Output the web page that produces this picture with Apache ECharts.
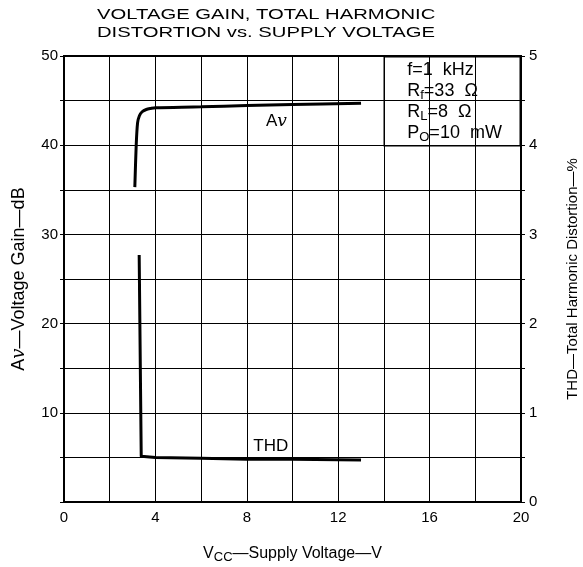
<!DOCTYPE html>
<html>
<head>
    <meta charset="utf-8">
    <title>Voltage Gain, THD vs Supply Voltage</title>
    <script src="https://cdn.jsdelivr.net/npm/echarts@6/dist/echarts.min.js"></script>
</head>
<body style="margin:0">
    <div id="main" style="width: 583px;height:567px;"></div>
    <script type="text/javascript">

// supply voltage (V) vs voltage gain (dB)
var avVcc  = [3.1, 3.16, 3.22, 3.3, 3.42, 3.6, 3.8, 4.0, 6, 8, 10, 13];
var avGain = [35.3, 40.0, 42.5, 43.3, 43.75, 44.0, 44.12, 44.2, 44.3, 44.45, 44.55, 44.7];

// supply voltage (V) vs THD (%)
var thdVcc = [3.29, 3.38, 3.5, 4, 6, 8, 10, 13];
var thdPct = [2.77, 0.51, 0.51, 0.5, 0.49, 0.48, 0.48, 0.47];

var xTicks = [0, 4, 8, 12, 16, 20];
var leftTicks = [10, 20, 30, 40, 50];
var rightTicks = [0, 1, 2, 3, 4, 5];

var font = 'Liberation Sans';

function pairs(xs, ys) {
    var out = [];
    for (var i = 0; i < xs.length; i++) {
        out.push([xs[i], ys[i]]);
    }
    return out;
}

var myChart = echarts.init(document.getElementById('main'));

var option = {
    animation: false,
    backgroundColor: '#fff',
    textStyle: { fontFamily: font, color: '#000' },
    grid: {
        left: 64, right: 62, top: 56, bottom: 65,
        outerBoundsMode: 'none',
        show: true, borderColor: '#000', borderWidth: 2
    },
    xAxis: {
        type: 'value',
        min: 0, max: 20, interval: 2,
        name: 'V{sub|CC}—Supply Voltage—V',
        nameLocation: 'middle',
        nameGap: 41,
        nameTextStyle: {
            fontSize: 16, color: '#000',
            rich: { sub: { fontSize: 13, verticalAlign: 'bottom', padding: [8, 0, 0, 0] } }
        },
        axisLine: { lineStyle: { color: '#000', width: 2 } },
        axisTick: { show: false },
        axisLabel: {
            fontSize: 15, color: '#000', margin: 8,
            formatter: function (v) { return xTicks.indexOf(v) >= 0 ? String(v) : ''; }
        },
        splitLine: { lineStyle: { color: '#000', width: 1 } }
    },
    yAxis: [
        {
            type: 'value',
            min: 0, max: 50, interval: 5,
            name: 'A{it|v}—Voltage Gain—dB',
            nameLocation: 'middle',
            nameGap: 36,
            nameTextStyle: {
                fontSize: 18, color: '#000',
                rich: { it: { fontSize: 18, fontStyle: 'italic', fontFamily: 'DejaVu Serif' } }
            },
            axisLine: { show: true, lineStyle: { color: '#000', width: 2 } },
            axisTick: { show: true, length: 4, lineStyle: { color: '#000' } },
            axisLabel: {
                fontSize: 15, color: '#000', margin: 6,
                formatter: function (v) { return leftTicks.indexOf(v) >= 0 ? String(v) : ''; }
            },
            splitLine: { lineStyle: { color: '#000', width: 1 } }
        },
        {
            type: 'value',
            min: 0, max: 5, interval: 0.5,
            position: 'right',
            name: 'THD—Total Harmonic Distortion—%',
            nameLocation: 'middle',
            nameGap: 44,
            nameRotate: 90,
            nameTextStyle: { fontSize: 15, color: '#000' },
            axisLine: { show: true, lineStyle: { color: '#000', width: 2 } },
            axisTick: { show: true, length: 4, lineStyle: { color: '#000' } },
            axisLabel: {
                fontSize: 15, color: '#000', margin: 8,
                formatter: function (v) { return rightTicks.indexOf(v) >= 0 ? String(v) : ''; }
            },
            splitLine: { show: false }
        }
    ],
    graphic: [
        {
            type: 'text',
            left: 97, top: 6,
            scaleX: 1.35,
            style: {
                text: 'VOLTAGE GAIN, TOTAL HARMONIC\nDISTORTION vs. SUPPLY VOLTAGE',
                font: '15px ' + font,
                lineHeight: 18,
                fill: '#000'
            }
        },
        {
            type: 'group',
            right: 62, top: 56,
            z: 100,
            children: [
                {
                    type: 'rect',
                    shape: { x: 0, y: 0, width: 136, height: 89 },
                    style: { fill: '#fff', stroke: '#000', lineWidth: 1.5 }
                },
                {
                    type: 'text',
                    left: 23, top: 3,
                    style: {
                        text: 'f=1  kHz\nR{s|f}=33  Ω\nR{s|L}=8  Ω\nP{s|O}=10  mW',
                        font: '18px ' + font,
                        lineHeight: 21,
                        fill: '#000',
                        rich: { s: { fontSize: 13, verticalAlign: 'bottom', padding: [6, 0, 0, 0] } }
                    }
                }
            ]
        }
    ],
    series: [
        {
            name: 'Av',
            type: 'line',
            yAxisIndex: 0,
            data: pairs(avVcc, avGain),
            smooth: 0.3,
            showSymbol: false,
            lineStyle: { color: '#000', width: 3 },
            markPoint: {
                symbol: 'rect', symbolSize: 1,
                itemStyle: { color: 'transparent' },
                label: {
                    show: true, position: 'inside',
                    formatter: 'A{it|v}',
                    fontSize: 17, color: '#000',
                    rich: { it: { fontStyle: 'italic', fontFamily: 'DejaVu Serif', fontSize: 17 } }
                },
                data: [{ coord: [9.3, 42.7] }]
            }
        },
        {
            name: 'THD',
            type: 'line',
            yAxisIndex: 1,
            data: pairs(thdVcc, thdPct),
            showSymbol: false,
            lineStyle: { color: '#000', width: 3 },
            markPoint: {
                symbol: 'rect', symbolSize: 1,
                itemStyle: { color: 'transparent' },
                label: {
                    show: true, position: 'inside',
                    formatter: 'THD', fontSize: 17, color: '#000'
                },
                data: [{ coord: [9.05, 0.62] }]
            }
        }
    ]
};

myChart.setOption(option);
    </script>
</body>
</html>
